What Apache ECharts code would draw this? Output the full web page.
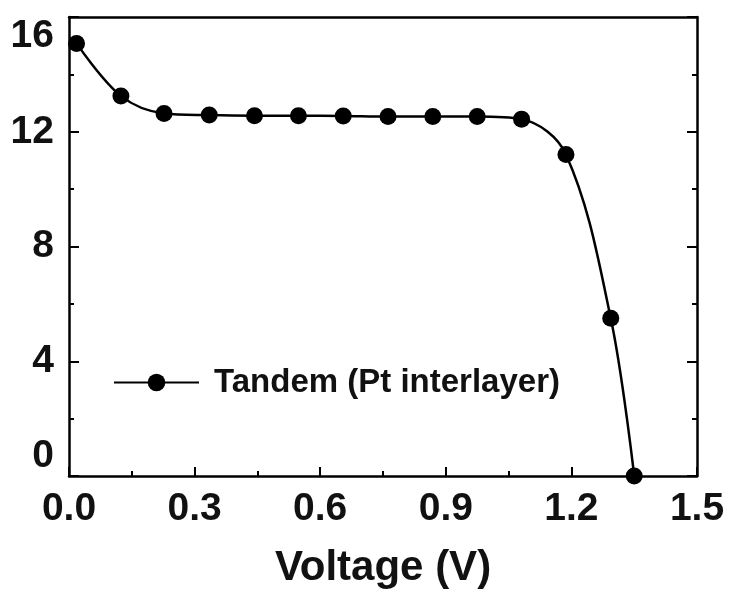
<!DOCTYPE html>
<html>
<head>
<meta charset="utf-8">
<script src="https://cdn.jsdelivr.net/npm/echarts@6/dist/echarts.min.js"></script>
<style>
html,body{margin:0;padding:0;background:#fff;}
#chart{width:731px;height:594px;}
</style>
</head>
<body>
<div id="chart"></div>
<script>
var seriesName = 'Tandem (Pt interlayer)';
var voltage = [0.018, 0.124, 0.227, 0.335, 0.443, 0.548, 0.655, 0.762, 0.869, 0.975, 1.081, 1.187, 1.294, 1.350];
var current = [15.08, 13.25, 12.64, 12.58, 12.56, 12.56, 12.55, 12.53, 12.53, 12.53, 12.44, 11.21, 5.50, 0.0];
var xTicks = [0.0, 0.3, 0.6, 0.9, 1.2, 1.5];
var yTicks = [0, 4, 8, 12, 16];
var xAxisTitle = 'Voltage (V)';

var FONT = "'Liberation Sans', Arial, sans-serif";
var pts = voltage.map(function (v, i) { return [v, current[i]]; });

var chart = echarts.init(document.getElementById('chart'), null, {renderer: 'canvas'});
var axisLineStyle = {color: '#000', width: 2.5};
chart.setOption({
  animation: false,
  backgroundColor: '#fff',
  grid: {left: 69, right: 34, top: 17, bottom: 118, containLabel: false},
  legend: {
    left: 113, top: 366, padding: 0,
    itemWidth: 85, itemHeight: 22,
    data: [seriesName],
    textStyle: {fontFamily: FONT, fontWeight: 'bold', fontSize: 33, color: '#111', padding: [0, 0, 0, 10]}
  },
  xAxis: [{
    type: 'value', min: xTicks[0], max: xTicks[xTicks.length - 1], interval: 0.3,
    position: 'bottom',
    name: xAxisTitle, nameLocation: 'middle', nameGap: 71,
    nameTextStyle: {fontFamily: FONT, fontWeight: 'bold', fontSize: 42, color: '#111'},
    axisLine: {show: true, onZero: false, lineStyle: axisLineStyle},
    axisTick: {show: true, inside: true, length: 9, lineStyle: {color: '#000', width: 2}},
    minorTick: {show: true, splitNumber: 2, length: 5, lineStyle: {color: '#000', width: 2}},
    axisLabel: {margin: 14, fontFamily: FONT, fontWeight: 'bold', fontSize: 39, color: '#111',
      formatter: function (v) { return v.toFixed(1); }},
    splitLine: {show: false}
  }, {
    type: 'value', min: 0, max: 1.5, position: 'top',
    axisLine: {show: true, onZero: false, lineStyle: axisLineStyle},
    axisTick: {show: false}, axisLabel: {show: false}, splitLine: {show: false}
  }],
  yAxis: [{
    type: 'value', min: yTicks[0], max: yTicks[yTicks.length - 1], interval: 4,
    position: 'left',
    axisLine: {show: true, onZero: false, lineStyle: axisLineStyle},
    axisTick: {show: true, inside: true, length: 10, lineStyle: {color: '#000', width: 2}},
    minorTick: {show: true, splitNumber: 2, length: 5, lineStyle: {color: '#000', width: 2}},
    axisLabel: {margin: 15, fontFamily: FONT, fontWeight: 'bold', fontSize: 39, color: '#111',
      verticalAlignMinLabel: 'bottom', verticalAlignMaxLabel: 'top'},
    splitLine: {show: false}
  }, {
    type: 'value', min: 0, max: 16, interval: 4, position: 'right',
    axisLine: {show: true, onZero: false, lineStyle: axisLineStyle},
    axisTick: {show: true, inside: true, length: 10, lineStyle: {color: '#000', width: 2}},
    minorTick: {show: true, splitNumber: 2, length: 5, lineStyle: {color: '#000', width: 2}},
    axisLabel: {show: false}, splitLine: {show: false}
  }],
  series: [{
    name: seriesName,
    type: 'line',
    data: pts,
    smooth: 0.35,
    symbol: 'circle',
    symbolSize: 17,
    lineStyle: {color: '#000', width: 2.5},
    itemStyle: {color: '#000'},
    clip: false
  }]
});
</script>
</body>
</html>
